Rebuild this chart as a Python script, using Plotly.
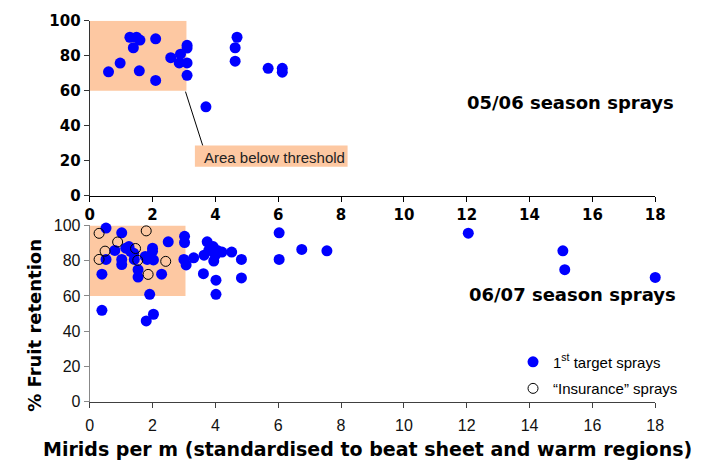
import plotly.graph_objects as go

# 05/06 season sprays (top panel)
top_x = [0.60, 0.97, 1.28, 1.49, 1.60, 1.39, 1.58, 2.10, 2.10, 2.58, 2.89, 2.85, 3.10, 3.10, 3.10, 3.10,
         3.70, 4.69, 4.63, 4.63, 5.68, 6.13, 6.13]
top_y = [70.8, 75.8, 90.6, 90.6, 89.0, 84.6, 71.4, 89.7, 65.9, 78.9, 80.9, 75.9, 86.0, 84.4, 75.9, 68.8,
         50.8, 90.6, 84.6, 76.9, 72.8, 72.8, 70.6]

# 06/07 season - 1st target sprays (bottom panel)
first_x = [0.52, 1.02, 0.39, 0.52, 0.80, 1.02, 1.02, 1.15, 1.25, 1.30, 1.42, 1.40, 1.54, 1.54, 1.77,
           1.83, 2.00, 2.00, 2.03, 2.29, 2.50, 1.91, 0.39, 2.03, 1.80, 3.02, 3.02, 3.00, 3.07, 3.31,
           3.64, 3.74, 3.79, 3.93, 3.95, 4.00, 4.06, 4.21, 4.52, 3.62, 4.02, 4.02, 4.83, 4.83, 6.03,
           6.03, 6.75, 7.55, 12.05, 15.06, 15.12, 18.0]
first_y = [98.5, 95.8, 72.3, 80.7, 85.8, 80.7, 77.8, 87.1, 88.0, 85.3, 80.7, 84.2, 74.9, 70.7, 82.4,
           80.7, 87.1, 85.3, 80.4, 72.3, 90.7, 60.9, 51.8, 49.6, 45.8, 93.8, 90.3, 80.7, 77.6, 81.6,
           83.1, 90.7, 85.8, 88.0, 79.8, 83.1, 85.8, 84.9, 84.9, 72.6, 68.9, 60.9, 80.7, 70.2, 95.8,
           80.7, 86.4, 85.6, 95.6, 85.6, 74.9, 70.5]

# 06/07 season - "Insurance" sprays
ins_x = [0.30, 1.80, 0.89, 0.49, 1.46, 0.30, 1.53, 2.42, 1.86]
ins_y = [95.5, 96.9, 90.6, 85.4, 86.9, 80.7, 80.2, 79.6, 72.2]

x_ticks = list(range(0, 19, 2))
y_ticks = list(range(0, 101, 20))

W, H = 709, 471
def px(v):
    return v / W
def py(v):
    return 1 - v / H

xdom = [px(86.5), px(664.3)]
top_dom = [py(194), py(12.3)]
bot_dom = [py(408.3), py(225)]

PEACH = "#FDC8A2"
FONT = "Liberation Sans, Arial, sans-serif"
BFONT = "DejaVu Sans, Liberation Sans, sans-serif"

fig = go.Figure()
fig.add_trace(go.Scatter(x=top_x, y=top_y, mode="markers", xaxis="x", yaxis="y",
                         marker=dict(color="#0000FF", size=11), showlegend=False, cliponaxis=False))
fig.add_trace(go.Scatter(x=first_x, y=first_y, mode="markers", xaxis="x2", yaxis="y2",
                         name="1<sup>st</sup> target sprays", legendgroup="a",
                         marker=dict(color="#0000FF", size=11), cliponaxis=False))
fig.add_trace(go.Scatter(x=ins_x, y=ins_y, mode="markers", xaxis="x2", yaxis="y2",
                         name="\u201cInsurance\u201d sprays", legendgroup="b",
                         marker=dict(color="rgba(0,0,0,0)", size=10, line=dict(color="black", width=1)),
                         cliponaxis=False))

shapes = [
    dict(type="rect", xref="x", yref="y", x0=0, x1=3.08, y0=60, y1=100, fillcolor=PEACH,
         line=dict(width=0), layer="below"),
    dict(type="rect", xref="x2", yref="y2", x0=0, x1=3.05, y0=60, y1=100, fillcolor=PEACH,
         line=dict(width=0), layer="below"),
    dict(type="line", xref="x", yref="y", x0=3.05, y0=59.5, x1=3.6, y1=28.5,
         line=dict(color="black", width=1)),
    dict(type="rect", xref="paper", yref="paper", x0=px(194), x1=px(350), y0=py(164), y1=py(142),
         fillcolor=PEACH, line=dict(width=0)),
]

def ann(text, x, y, font, **kw):
    return dict(text=text, xref="paper", yref="paper", x=px(x), y=py(y), showarrow=False,
                xanchor="center", yanchor="middle", font=font, **kw)

annotations = [
    ann("Area below threshold", 275, 154, dict(family=FONT, size=15, color="#222")),
    ann("<b>05/06 season sprays</b>", 578, 97, dict(family=BFONT, size=18, color="black")),
    ann("<b>06/07 season sprays</b>", 580, 297, dict(family=BFONT, size=18, color="black")),
    ann("<b>% Fruit retention</b>", 30, 329, dict(family=BFONT, size=18, color="black"), textangle=-90),
    ann("<b>Mirids per m (standardised to beat sheet and warm regions)</b>", 370, 458,
        dict(family=BFONT, size=19, color="black")),
]

common_x = dict(range=[0, 18], tickvals=x_ticks, ticks="outside", ticklen=5, showgrid=False,
                zeroline=False, showline=True, domain=xdom)
common_y = dict(range=[0, 100], tickvals=y_ticks, ticks="outside", ticklen=5, showgrid=False,
                zeroline=False, showline=True)

fig.update_layout(
    width=W, height=H, autosize=False,
    margin=dict(l=0, r=0, t=0, b=0),
    plot_bgcolor="white", paper_bgcolor="white",
    font=dict(family=FONT, color="black"),
    xaxis=dict(**common_x, anchor="y", linecolor="black", tickcolor="black",
               tickfont=dict(family=BFONT, size=15, weight="bold", color="black")),
    yaxis=dict(**common_y, domain=top_dom, anchor="x", linecolor="#333", tickcolor="#333",
               tickfont=dict(family=BFONT, size=15, weight="bold", color="black")),
    xaxis2=dict(**common_x, anchor="y2", linecolor="#404040", tickcolor="#404040",
                ticklabelstandoff=4,
                tickfont=dict(family=FONT, size=16, color="#111")),
    yaxis2=dict(**common_y, domain=bot_dom, anchor="x2", linecolor="#888", tickcolor="#888",
                tickfont=dict(family=FONT, size=16, color="#111")),
    shapes=shapes,
    annotations=annotations,
    legend=dict(x=px(519), y=py(350), xanchor="left", yanchor="top", bgcolor="rgba(0,0,0,0)",
                font=dict(family=FONT, size=15, color="black"), traceorder="grouped",
                tracegroupgap=4, itemsizing="trace"),
)

fig.write_html("out.html")
